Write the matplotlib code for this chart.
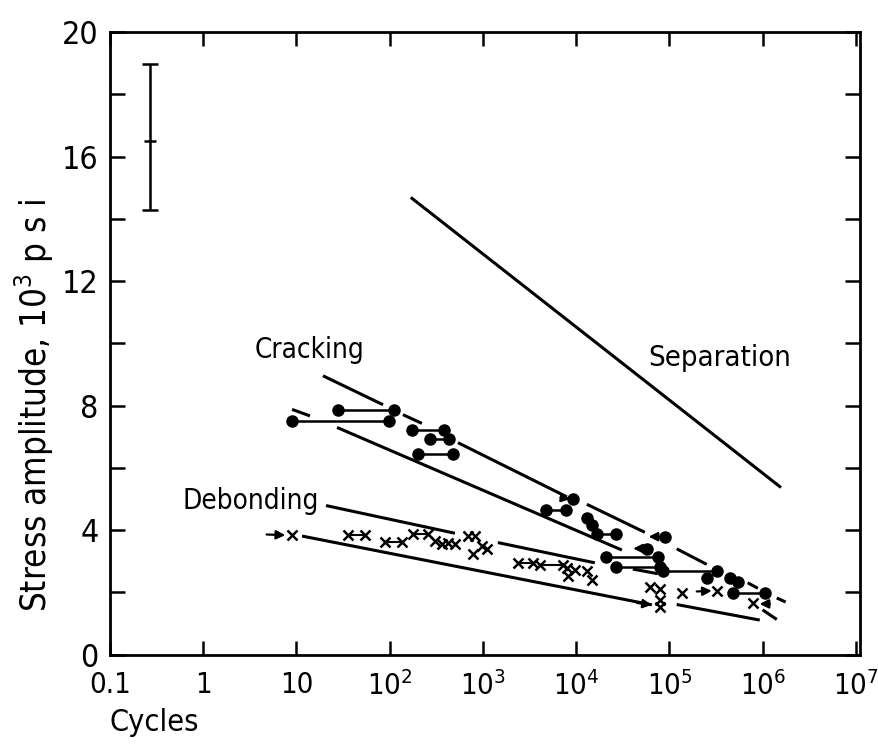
import matplotlib.pyplot as plt

plt.rcParams['font.family'] = ['DejaVu Sans']
plt.rcParams['font.stretch'] = 'condensed'
plt.rcParams['mathtext.fontset'] = 'dejavusans'

# boundary lines, each drawn as the pieces seen in the figure
separation_x = [174, 1.53e6]
separation_y = [14.66, 5.40]

crack_upper_segs = [
    ([19.3, 85], [8.96, 8.03]),
    ([139, 222], [7.71, 7.43]),
    ([541, 7960], [6.81, 5.07]),
    ([13060, 54600], [4.83, 3.93]),
    ([1.2e5, 2.52e5], [3.40, 2.90]),
    ([6.92e5, 8.91e5], [2.31, 2.13]),
    ([1.42e6, 1.77e6], [1.82, 1.69]),
]
crack_lower_segs = [
    ([9.0, 14], [7.88, 7.67]),
    ([27.3, 31000], [7.30, 3.36]),
    ([1.0e6, 1.42e6], [1.44, 1.13]),
]
debond_upper_segs = [
    ([20.8, 502], [4.79, 3.90]),
    ([1450, 15900], [3.60, 2.95]),
    ([40600, 75300], [2.75, 2.60]),
]
debond_lower_segs = [
    ([11.5, 65000], [3.81, 1.60]),
    ([1.2e5, 9.33e5], [1.61, 1.11]),
]

# cracking data: dots joined by a line, and single dots
crack_pair_x1 = [9.0, 28, 174, 271, 201, 4750, 16700, 20900, 26700, 85200, 480000]
crack_pair_x2 = [99, 111, 383, 433, 478, 7780, 26700, 75300, 79100, 323000, 1.06e6]
crack_pair_y = [7.50, 7.85, 7.22, 6.93, 6.45, 4.65, 3.88, 3.15, 2.82, 2.68, 1.98]
crack_x = [9240, 13060, 14770, 89500, 57400, 252000, 445000, 542000]
crack_y = [4.99, 4.40, 4.15, 3.79, 3.41, 2.47, 2.45, 2.33]

# debonding data: crosses joined by a line, and single crosses
debond_pair_x1 = [36, 89, 178, 2380, 4100]
debond_pair_x2 = [54, 136, 258, 3440, 7220]
debond_pair_y = [3.84, 3.63, 3.86, 2.95, 2.88]
debond_x = [9.0, 307, 365, 423, 502, 692, 823, 977, 1107, 783, 7960, 9710, 13060,
            14770, 8170, 61800, 79100, 79100, 79100, 136000, 323000, 785000]
debond_y = [3.84, 3.64, 3.57, 3.58, 3.55, 3.80, 3.80, 3.48, 3.38, 3.22, 2.78, 2.72, 2.69,
            2.40, 2.54, 2.18, 2.10, 1.76, 1.54, 1.97, 2.05, 1.66]

# runout arrows: start x, start y, tip x, tip y
arrow_x0 = [4.8, 6800, 80000, 52000, 45000, 197000, 1.2e6]
arrow_y0 = [3.86, 5.05, 3.79, 3.41, 1.66, 2.03, 1.63]
arrow_x1 = [7.6, 8700, 60000, 41000, 65000, 285000, 9.3e5]
arrow_y1 = [3.84, 5.00, 3.79, 3.41, 1.60, 2.05, 1.63]

# scatter bar
bar_x = 0.27
bar_mid = 16.5
bar_lo = 14.29
bar_hi = 18.98

xtick_vals = [0.1, 1, 10, 100, 1e3, 1e4, 1e5, 1e6, 1e7]
xtick_labels = ['0.1', '1', '10', r'$10^2$', r'$10^3$', r'$10^4$', r'$10^5$', r'$10^6$', r'$10^7$']
ytick_vals = [0, 4, 8, 12, 16, 20]

fig = plt.figure(figsize=(8.79, 7.49), dpi=100)
ax = fig.add_axes([0.125, 0.126, 0.853, 0.831])
ax.set_xscale('log')

lw = 2.2
ax.plot(separation_x, separation_y, color='k', lw=lw)
for segs in (crack_upper_segs, crack_lower_segs, debond_upper_segs, debond_lower_segs):
    for sx, sy in segs:
        ax.plot(sx, sy, color='k', lw=lw, solid_capstyle='butt')

for x1, x2, y in zip(crack_pair_x1, crack_pair_x2, crack_pair_y):
    ax.plot([x1, x2], [y, y], color='k', lw=1.8, marker='o', markersize=8)
ax.plot(crack_x, crack_y, 'o', color='k', markersize=8)

for x1, x2, y in zip(debond_pair_x1, debond_pair_x2, debond_pair_y):
    ax.plot([x1, x2], [y, y], color='k', lw=1.5, marker='x', markersize=7, mew=1.8)
ax.plot(debond_x, debond_y, 'x', color='k', markersize=7, mew=1.8)

for x0, y0, x1, y1 in zip(arrow_x0, arrow_y0, arrow_x1, arrow_y1):
    ax.annotate('', xy=(x1, y1), xytext=(x0, y0),
                arrowprops=dict(arrowstyle='-|>', color='k', lw=1.6, mutation_scale=13,
                                shrinkA=0, shrinkB=0))

ax.errorbar([bar_x], [bar_mid], yerr=[[bar_mid - bar_lo], [bar_hi - bar_mid]],
            color='k', lw=1.8, capsize=6, capthick=1.8, marker='_', markersize=9, mew=1.8)

ax.text(13.7, 9.79, 'Cracking', fontsize=20, ha='center', va='center')
ax.text(3.2, 4.94, 'Debonding', fontsize=20, ha='center', va='center')
ax.text(348000, 9.53, 'Separation', fontsize=21, ha='center', va='center')

ax.set_xlim(0.1, 1.1e7)
ax.set_ylim(0, 20)
ax.set_xticks(xtick_vals)
ax.set_xticklabels(xtick_labels)
ax.xaxis.set_minor_locator(plt.NullLocator())
ax.set_yticks(ytick_vals)
ax.set_yticks([2, 6, 10, 14, 18], minor=True)
ax.tick_params(axis='both', which='both', direction='in', top=True, right=True, width=1.8)
ax.tick_params(axis='y', which='both', length=11, pad=8, labelsize=23)
ax.tick_params(axis='x', which='both', length=10, pad=12, labelsize=21)
for s in ax.spines.values():
    s.set_linewidth(2.0)

ax.set_ylabel(r'Stress amplitude, $10^3$ p s i', fontsize=25)
ax.yaxis.set_label_coords(-0.072, 0.40)
ax.set_xlabel('Cycles', fontsize=22, loc='left', labelpad=5)

fig.savefig('out.png', dpi=100)
